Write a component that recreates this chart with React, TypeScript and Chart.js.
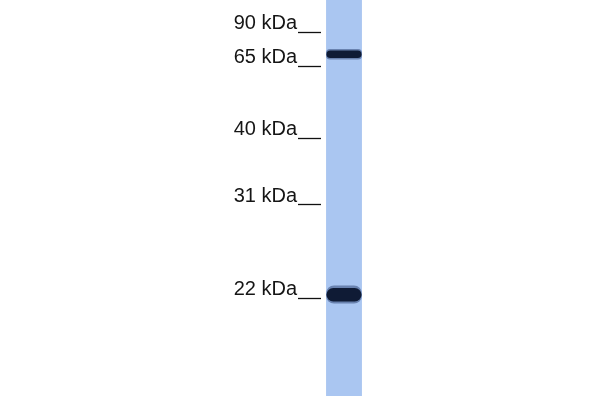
import { useEffect, useRef } from 'react'
import { Chart, registerables } from 'chart.js'

Chart.register(...registerables)

// marker ladder (kDa) and where each one sits along the lane (migration, px)
const markerLabels = ['90 kDa', '65 kDa', '40 kDa', '31 kDa', '22 kDa']
const markerMigration = [32, 66, 138, 205, 298]

// the lane itself, top to bottom
const laneLabel = ['Lane 1']
const laneRange: [number, number] = [0, 396]

// detected bands: soft halo + dark core, as [top, bottom] migration
const bandNames = ['65 kDa band', '22 kDa band']
const bandHalo: [number, number][] = [[49, 59.5], [285.5, 303.5]]
const bandCore: [number, number][] = [[50.5, 58], [288, 301.5]]
const bandRadius = [4, 8]

export default function App() {
  const canvasRef = useRef<HTMLCanvasElement | null>(null)

  useEffect(() => {
    if (!canvasRef.current) return

    const halos = bandNames.map((name, i) => ({
      label: name + ' halo',
      data: [bandHalo[i]],
      backgroundColor: 'rgba(40, 62, 110, 0.5)',
      borderRadius: bandRadius[i],
      borderSkipped: false,
      grouped: false,
      barPercentage: 0.78,
      categoryPercentage: 1,
      order: 2
    }))
    const cores = bandNames.map((name, i) => ({
      label: name,
      data: [bandCore[i]],
      backgroundColor: '#0f1b35',
      borderRadius: bandRadius[i],
      borderSkipped: false,
      grouped: false,
      barPercentage: 0.76,
      categoryPercentage: 1,
      order: 1
    }))

    const chart = new Chart(canvasRef.current, {
      type: 'bar',
      data: {
        labels: laneLabel,
        datasets: [
          {
            label: 'lane',
            data: [laneRange],
            backgroundColor: '#aac6f1',
            borderSkipped: false,
            grouped: false,
            barPercentage: 0.78,
            categoryPercentage: 1,
            order: 3
          },
          ...halos,
          ...cores
        ] as any
      },
      options: {
        animation: false,
        responsive: true,
        maintainAspectRatio: false,
        layout: { padding: { left: 0, right: 233, top: 0, bottom: 0 } },
        plugins: {
          legend: { display: false },
          tooltip: { enabled: false }
        },
        scales: {
          x: { display: false },
          y: {
            min: 0,
            max: 400,
            reverse: true,
            afterBuildTicks: (scale) => {
              scale.ticks = markerMigration.map(v => ({ value: v }))
            },
            afterFit: (scale: any) => {
              scale.width = 321
              scale.paddingTop = 0
              scale.paddingBottom = 0
            },
            ticks: {
              autoSkip: false,
              padding: 1,
              labelOffset: -9,
              color: '#151515',
              font: { family: "'Liberation Sans', Arial, sans-serif", size: 20 },
              callback: (_v, i) => markerLabels[i]
            },
            grid: {
              drawOnChartArea: false,
              drawTicks: true,
              tickLength: 23,
              tickColor: '#111',
              tickWidth: 1.3
            },
            border: { display: false }
          }
        }
      }
    })

    return () => chart.destroy()
  }, [])

  return (
    <div style={{ position: 'fixed', left: 0, top: 0, width: 600, height: 400, background: '#fff' }}>
      <canvas ref={canvasRef} />
    </div>
  )
}
